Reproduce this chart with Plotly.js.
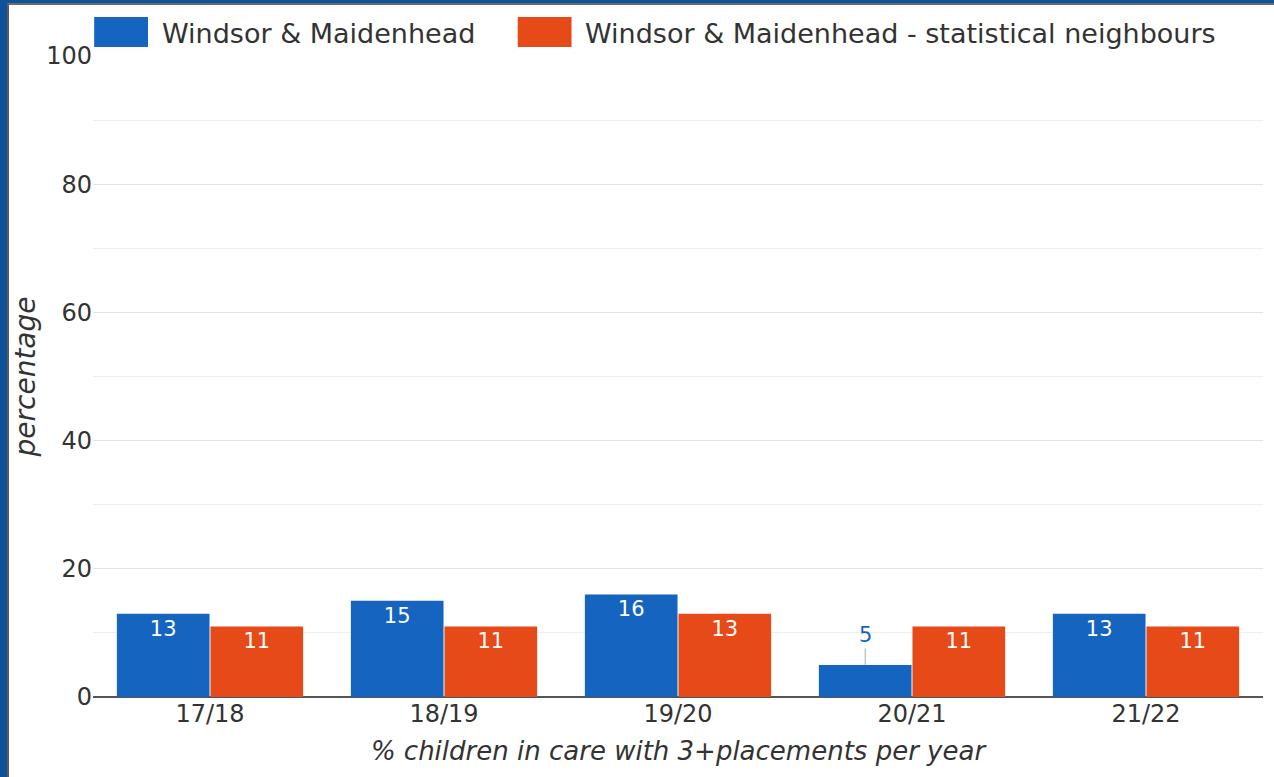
<!DOCTYPE html>
<html>
<head>
<meta charset="utf-8">
<script src="https://cdn.plot.ly/plotly-3.0.1.min.js"></script>
<style>
  html, body { margin: 0; padding: 0; background: #ffffff; }
  #outer { position: absolute; left: 0; top: 0; width: 1274px; height: 777px; box-sizing: border-box;
           border-left: 7px solid #0f5299; border-top: 3px solid #0f5299; overflow: hidden; }
  #inner { position: absolute; left: 0; top: 0; width: 1267px; height: 774px; box-sizing: border-box;
           border-left: 2px solid #5a5a5a; border-top: 2px solid #6a6a6a; background: #fff; }
  #chart { position: absolute; left: 0; top: 0; width: 1265px; height: 772px; }
</style>
</head>
<body>
<div id="outer"><div id="inner"><div id="chart"></div></div></div>
<script>
const categories = ['17/18', '18/19', '19/20', '20/21', '21/22'];
const seriesNames = ['Windsor & Maidenhead', 'Windsor & Maidenhead - statistical neighbours'];
const windsor = [13, 15, 16, 5, 13];
const neighbours = [11, 11, 13, 11, 11];
const yTicks = [0, 20, 40, 60, 80, 100];
const xTitle = '% children in care with 3+placements per year';
const yTitle = 'percentage';

const BLUE = '#1565c0';
const ORANGE = '#e64a19';
const FONT = 'DejaVu Sans, Noto Sans, sans-serif';
const SMALL = 8; // values below this get their label outside

function insideText(vals) { return vals.map(v => v < SMALL ? '' : String(v)); }

const traces = [
  { type: 'bar', name: seriesNames[0], x: categories, y: windsor, marker: { color: BLUE },
    text: insideText(windsor), textposition: 'inside', insidetextanchor: 'end', textangle: 0,
    textfont: { color: '#ffffff', size: 21, family: FONT }, hoverinfo: 'none' },
  { type: 'bar', name: seriesNames[1], x: categories, y: neighbours, marker: { color: ORANGE },
    text: insideText(neighbours), textposition: 'inside', insidetextanchor: 'end', textangle: 0,
    textfont: { color: '#ffffff', size: 21, family: FONT }, hoverinfo: 'none' }
];

const BARGAP = 0.2, GROUPGAP = 0.01;
const plotW = 1265 - 84 - 11;
const slot = plotW / categories.length;
const barW = slot * (1 - BARGAP) / 2;

const annotations = [];
[[windsor, -1, BLUE], [neighbours, 1, ORANGE]].forEach(([vals, side, col]) => {
  vals.forEach((v, i) => {
    if (v < SMALL) {
      annotations.push({ x: categories[i], y: v, xref: 'x', yref: 'y', text: String(v),
        showarrow: true, arrowhead: 0, arrowwidth: 1, arrowcolor: '#aaaaaa', ax: 0, ay: -30,
        xshift: side * barW / 2, standoff: 0,
        font: { color: col, size: 21, family: FONT } });
    }
  });
});

// custom legend with wide swatches
const shapes = [];
const legendX = [0.001, 0.363];
[BLUE, ORANGE].forEach((c, k) => {
  shapes.push({ type: 'rect', xref: 'paper', yref: 'paper', x0: legendX[k], x1: legendX[k] + 0.046,
    y0: 1.014, y1: 1.061, fillcolor: c, line: { width: 0 } });
  annotations.push({ xref: 'paper', yref: 'paper', x: legendX[k] + 0.056, y: 1.035, xanchor: 'left',
    yanchor: 'middle', showarrow: false, text: seriesNames[k],
    font: { size: 27, color: '#333333', family: FONT } });
});

const layout = {
  width: 1265, height: 772,
  margin: { l: 84, r: 11, t: 51, b: 80 },
  paper_bgcolor: '#ffffff', plot_bgcolor: '#ffffff',
  showlegend: false,
  barmode: 'group', bargap: BARGAP, bargroupgap: GROUPGAP,
  font: { family: FONT, color: '#333333' },
  xaxis: { type: 'category', tickfont: { size: 24, color: '#333333' }, showgrid: false, ticks: '',
    showline: false, automargin: false,
    title: { text: xTitle, font: { size: 26, color: '#333333', style: 'italic' }, standoff: 14 } },
  yaxis: { range: [0, 100], tickvals: yTicks, tickfont: { size: 24, color: '#333333' },
    showgrid: true, gridcolor: '#e3e3e3', gridwidth: 1,
    minor: { dtick: 10, showgrid: true, gridcolor: '#eeeeee', gridwidth: 1 },
    zeroline: true, zerolinecolor: '#555555', zerolinewidth: 2, ticks: '', automargin: false,
    title: { text: yTitle, font: { size: 28, color: '#333333', style: 'italic' }, standoff: 2 } },
  shapes: shapes,
  annotations: annotations
};

Plotly.newPlot('chart', traces, layout, { displayModeBar: false, staticPlot: true });
</script>
</body>
</html>
